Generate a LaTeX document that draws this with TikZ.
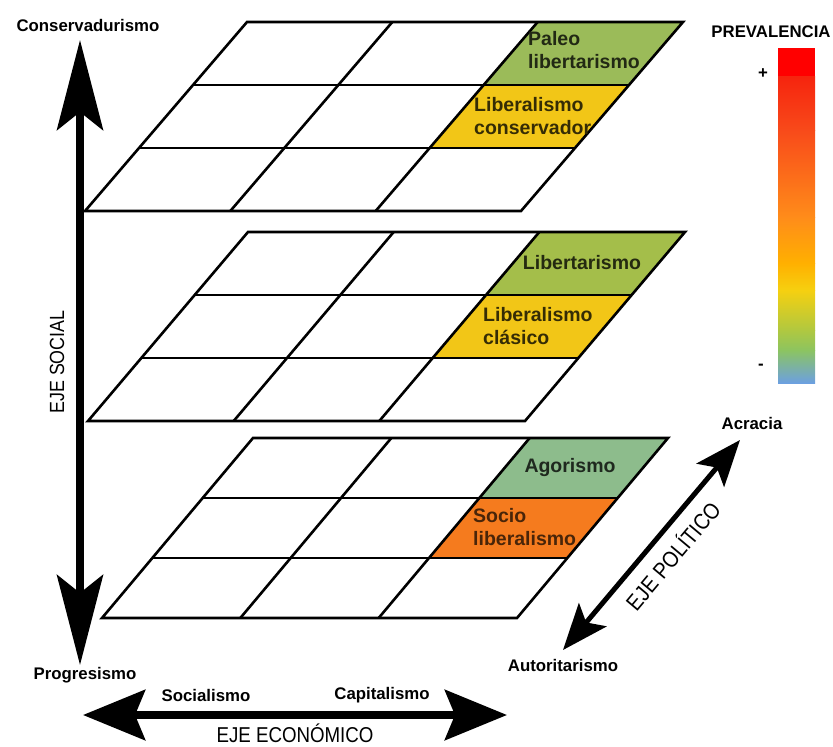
\documentclass[tikz,border=0pt]{standalone}
\usepackage{fontspec}
\setmainfont{Liberation Sans}
\newfontfamily\narrowsf[FakeStretch=0.87]{Liberation Sans}
\usetikzlibrary{arrows.meta}
\definecolor{paleo}{HTML}{9BBB59}
\definecolor{libt}{HTML}{A4BE4A}
\definecolor{gold}{HTML}{F2C617}
\definecolor{agor}{HTML}{8DBC8C}
\definecolor{socio}{HTML}{F57B1E}
\tikzset{
  gridline/.style={line width=2.6pt, black, line join=miter},
  celltext/.style={font=\bfseries\fontsize{19.5}{23}\selectfont, align=left, inner sep=0pt},
  axislabel/.style={font=\bfseries\fontsize{16.8}{19}\selectfont, inner sep=0pt},
  axisname/.style={font=\narrowsf\fontsize{20.5}{24}\selectfont, inner sep=0pt},
  vaxis/.style={line width=8pt, {Stealth[length=90pt,width=46pt,inset=18pt]}-{Stealth[length=90pt,width=46pt,inset=18pt]}},
  haxis/.style={line width=8pt, {Stealth[length=62pt,width=50pt,inset=10pt]}-{Stealth[length=62pt,width=50pt,inset=10pt]}},
  daxis/.style={line width=5pt, {Stealth[length=46pt,width=36pt,inset=10pt]}-{Stealth[length=46pt,width=36pt,inset=10pt]}},
}
% x0 y0 width height shear topcolor midcolor
\newcommand\gridlayer[7]{%
  \begin{scope}[shift={(#1,#2)}, x={(#3pt,0pt)}, y={(-#5pt,-#4pt)}]
    \fill[#6] (2/3,0) -- (1,0) -- (1,1/3) -- (2/3,1/3) -- cycle;
    \fill[#7] (2/3,1/3) -- (1,1/3) -- (1,2/3) -- (2/3,2/3) -- cycle;
    \foreach \k in {1,2} {
      \draw[gridline] (\k/3,0) -- (\k/3,1);
      \draw[gridline] (0,\k/3) -- (1,\k/3);
    }
    \draw[gridline] (0,0) -- (1,0) -- (1,1) -- (0,1) -- cycle;
  \end{scope}}
\begin{document}
\begin{tikzpicture}[x=1pt,y=-1pt]
\useasboundingbox (0,0) rectangle (833,747);

% layers
\gridlayer{247}{22}{436}{189}{162}{paleo}{gold}
\gridlayer{248}{232}{437}{189}{160}{libt}{gold}
\gridlayer{253}{438}{415}{180}{151}{agor}{socio}

% cell texts
\node[celltext, anchor=west, text=paleo!22!black] (paleo) at (528,50) {Paleo\\libertarismo};
\node[celltext, anchor=west, text=gold!22!black] (libcons) at (474,116.5) {Liberalismo\\conservador};
\node[celltext, text=libt!22!black] (libert) at (582,263) {Libertarismo};
\node[celltext, anchor=west, text=gold!22!black] (libclas) at (483,326.5) {Liberalismo\\clásico};
\node[celltext, text=agor!22!black] (agorismo) at (570,467) {Agorismo};
\node[celltext, anchor=west, text=socio!30!black] (sociolib) at (473,527) {Socio\\liberalismo};

% social axis
\node[axislabel] (conserv) at (88,25) {Conservadurismo};
\node[axislabel] (progre) at (85,675) {Progresismo};
\coordinate (sTop) at (80,40);
\coordinate (sBot) at (80,665);
\draw[vaxis] (sTop) -- (sBot);
\node[axisname, rotate=90] (ejesocial) at (57,362) {EJE SOCIAL};

% economic axis
\coordinate (eL) at (83,715);
\coordinate (eR) at (507,715);
\draw[haxis] (eL) -- (eR);
\node[axislabel] (social) at (206,695) {Socialismo};
\node[axislabel] (capital) at (382,695) {Capitalismo};
\node[axisname, font=\narrowsf\fontsize{21.5}{24}\selectfont] (ejeeco) at (295,733) {EJE ECONÓMICO};

% political axis
\node[axislabel] (acracia) at (752,423) {Acracia};
\node[axislabel] (autor) at (563,665) {Autoritarismo};
\coordinate (pUp) at (740,440);
\coordinate (pDn) at (563,650);
\draw[daxis] (pDn) -- (pUp);
\node[axisname, font=\narrowsf\fontsize{22.5}{24}\selectfont, rotate=50] (ejepol) at (672,555) {EJE POLÍTICO};

% prevalence bar
\node[axislabel] (preval) at (771,32) {PREVALENCIA};
\def\bx{778}\def\bX{815}
\fill[red] (\bx,48) rectangle (\bX,77);
\shade[top color={rgb,255:red,246;green,36;blue,14}, bottom color={rgb,255:red,248;green,74;blue,26}] (\bx,76.5) rectangle (\bX,130.5);
\shade[top color={rgb,255:red,248;green,74;blue,26}, bottom color={rgb,255:red,255;green,140;blue,26}] (\bx,130) rectangle (\bX,217.5);
\shade[top color={rgb,255:red,255;green,140;blue,26}, bottom color={rgb,255:red,255;green,176;blue,0}] (\bx,217) rectangle (\bX,263.5);
\shade[top color={rgb,255:red,255;green,176;blue,0}, bottom color={rgb,255:red,246;green,208;blue,16}] (\bx,263) rectangle (\bX,290.5);
\shade[top color={rgb,255:red,246;green,208;blue,16}, bottom color={rgb,255:red,176;green,200;blue,64}] (\bx,290) rectangle (\bX,330.5);
\shade[top color={rgb,255:red,176;green,200;blue,64}, bottom color={rgb,255:red,140;green,196;blue,96}] (\bx,330) rectangle (\bX,350.5);
\shade[top color={rgb,255:red,140;green,196;blue,96}, bottom color={rgb,255:red,108;green,160;blue,224}] (\bx,350) rectangle (\bX,383);
\node[axislabel] (plus) at (763,74) {+};
\node[axislabel] (minus) at (761,367) {-};
\end{tikzpicture}
\end{document}
